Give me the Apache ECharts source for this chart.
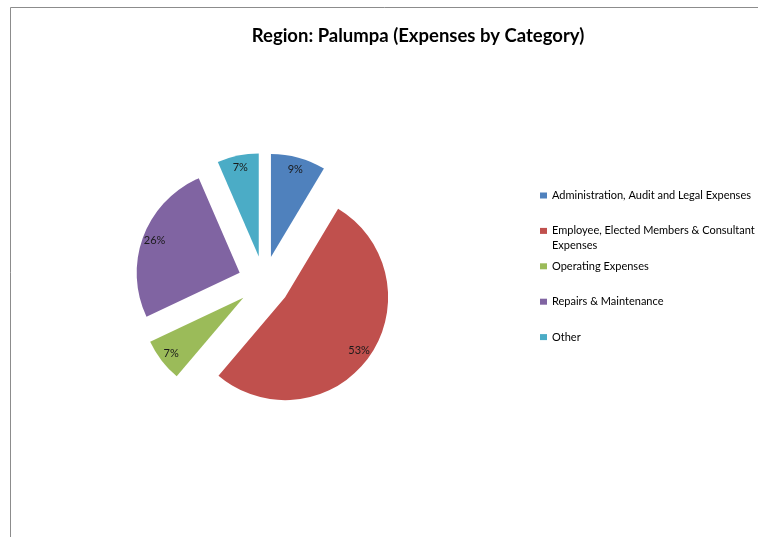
<!DOCTYPE html>
<html>
<head>
<meta charset="utf-8">
<script src="https://cdn.jsdelivr.net/npm/echarts@6/dist/echarts.min.js"></script>
<style>
  html, body { margin: 0; padding: 0; background: #fff; }
  #chart { width: 758px; height: 537px; }
</style>
</head>
<body>
<div id="chart"></div>
<script>
const categories = [
    'Administration, Audit and Legal Expenses',
    'Employee, Elected Members & Consultant Expenses',
    'Operating Expenses',
    'Repairs & Maintenance',
    'Other'
];
const shares = [8.6, 52.6, 6.8, 25.5, 6.5];
const colors = ['#4f81bd', '#c0504d', '#9bbb59', '#8064a2', '#4bacc6'];
// texte de la légende, coupé comme dans l'original
// (ligne vide devant pour que le carré soit en face de la première ligne)
const legendLines = [
    '\nAdministration, Audit and Legal Expenses\n',
    '\nEmployee, Elected Members & Consultant\nExpenses',
    '\nOperating Expenses\n',
    '\nRepairs & Maintenance\n',
    '\nOther\n'
];

const font = 'Lato, "Open Sans", sans-serif';
const lineH = 15;

let chart;

window.onload = init;

function init() {
    chart = echarts.init(document.getElementById('chart'), null, { renderer: 'canvas' });

    let pieData = categories.map((name, i) => ({
        name: name,
        value: shares[i],
        selected: true,
        itemStyle: { color: colors[i] }
    }));

    let options = {
        animation: false,
        color: colors,
        title: {
            text: 'Region: Palumpa (Expenses by Category)',
            left: 413,
            top: 22,
            textAlign: 'center',
            textStyle: { fontFamily: font, fontSize: 18.5, fontWeight: 'bold', color: '#000' }
        },
        legend: {
            orient: 'vertical',
            left: 540,
            top: 173,
            padding: 0,
            itemGap: 35.4 - 3 * lineH,
            icon: 'rect',
            itemWidth: 7,
            itemHeight: 6,
            selectedMode: false,
            data: categories,
            formatter: name => legendLines[categories.indexOf(name)],
            textStyle: {
                fontFamily: font,
                fontSize: 11,
                color: '#000',
                lineHeight: lineH
            }
        },
        graphic: [{
            type: 'rect',
            left: 8,
            top: 5,
            silent: true,
            shape: { width: 800, height: 600 },
            style: { fill: null, stroke: '#8c8c8c', lineWidth: 1 }
        }],
        series: [
            {
                type: 'pie',
                center: [264, 282],
                radius: [0, 103],
                startAngle: 90,
                selectedMode: 'multiple',
                selectedOffset: 26,
                emphasis: { disabled: true },
                label: { show: false },
                labelLine: { show: false },
                data: pieData
            },
            {
                // série transparente qui sert seulement à placer les pourcentages
                type: 'pie',
                center: [264, 282],
                radius: [73, 103],
                startAngle: 90,
                selectedMode: 'multiple',
                selectedOffset: 26,
                silent: true,
                emphasis: { disabled: true },
                itemStyle: { color: 'rgba(0,0,0,0)', borderWidth: 0 },
                label: {
                    show: true,
                    position: 'inside',
                    formatter: p => Math.round(p.percent) + '%',
                    fontFamily: font,
                    fontSize: 11,
                    color: '#1a1a1a'
                },
                labelLine: { show: false },
                data: categories.map((name, i) => ({ name: name, value: shares[i], selected: true }))
            }
        ]
    };

    chart.setOption(options);
}
</script>
</body>
</html>
